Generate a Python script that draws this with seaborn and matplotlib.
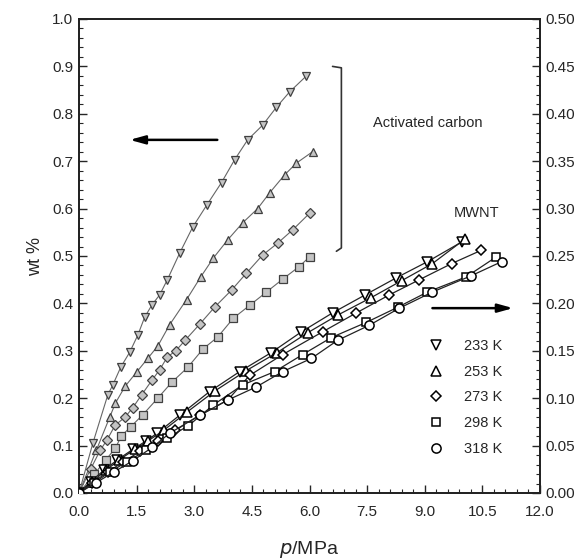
import numpy as np
import pandas as pd
import matplotlib
matplotlib.use("Agg")
import matplotlib.pyplot as plt
import seaborn as sns
from matplotlib.lines import Line2D
from matplotlib.ticker import MultipleLocator, FormatStrFormatter

# ---------------- data ----------------
temps = ["233 K", "253 K", "273 K", "298 K", "318 K"]
markers = ["v", "^", "D", "s", "o"]

# Activated carbon (left axis, wt %)
ac_p_233 = [0, 0.36, 0.75, 0.88, 1.09, 1.32, 1.53, 1.71, 1.9, 2.1, 2.3, 2.62, 2.96, 3.33, 3.71, 4.05, 4.39, 4.78, 5.14, 5.48, 5.92]
ac_w_233 = [0, 0.105, 0.207, 0.228, 0.266, 0.297, 0.333, 0.371, 0.397, 0.418, 0.45, 0.506, 0.561, 0.608, 0.655, 0.703, 0.745, 0.776, 0.814, 0.846, 0.88]
ac_p_253 = [0, 0.45, 0.8, 0.95, 1.2, 1.5, 1.8, 2.05, 2.36, 2.8, 3.17, 3.5, 3.87, 4.26, 4.65, 4.96, 5.35, 5.66, 6.08]
ac_w_253 = [0, 0.09, 0.16, 0.19, 0.225, 0.255, 0.285, 0.31, 0.355, 0.408, 0.456, 0.496, 0.534, 0.57, 0.60, 0.633, 0.671, 0.696, 0.72]
ac_p_273 = [0, 0.3, 0.55, 0.73, 0.94, 1.2, 1.4, 1.63, 1.9, 2.1, 2.3, 2.52, 2.76, 3.14, 3.53, 3.97, 4.36, 4.78, 5.17, 5.56, 6.0]
ac_w_273 = [0, 0.05, 0.09, 0.112, 0.143, 0.16, 0.18, 0.207, 0.238, 0.26, 0.287, 0.3, 0.322, 0.356, 0.392, 0.428, 0.464, 0.502, 0.527, 0.555, 0.59]
ac_p_298 = [0, 0.4, 0.7, 0.95, 1.1, 1.35, 1.66, 2.05, 2.42, 2.83, 3.23, 3.61, 4.02, 4.46, 4.88, 5.3, 5.72, 6.0]
ac_w_298 = [0, 0.04, 0.07, 0.095, 0.12, 0.14, 0.165, 0.2, 0.234, 0.265, 0.304, 0.329, 0.369, 0.397, 0.424, 0.451, 0.477, 0.498]

# MWNT (right axis, wt %)
mw_p_233 = [0, 0.3, 0.65, 1.0, 1.4, 1.75, 2.03, 2.62, 3.4, 4.18, 5.0, 5.79, 6.6, 7.45, 8.26, 9.07, 9.97]
mw_w_233 = [0, 0.012, 0.024, 0.035, 0.046, 0.055, 0.063, 0.082, 0.107, 0.128, 0.148, 0.17, 0.19, 0.209, 0.227, 0.244, 0.265]
mw_p_253 = [0, 0.35, 0.7, 1.05, 1.45, 1.8, 2.2, 2.8, 3.55, 4.35, 5.15, 5.95, 6.75, 7.6, 8.4, 9.2, 10.05]
mw_w_253 = [0, 0.012, 0.024, 0.035, 0.046, 0.055, 0.066, 0.085, 0.108, 0.129, 0.148, 0.169, 0.188, 0.206, 0.224, 0.242, 0.268]
mw_p_273 = [0, 0.35, 0.75, 1.15, 1.6, 2.05, 2.5, 3.15, 3.87, 4.44, 5.3, 6.34, 7.22, 8.08, 8.86, 9.7, 10.47]
mw_w_273 = [0, 0.011, 0.022, 0.033, 0.044, 0.055, 0.066, 0.082, 0.098, 0.124, 0.146, 0.17, 0.19, 0.209, 0.225, 0.242, 0.256]
mw_p_298 = [0, 0.4, 0.8, 1.25, 1.75, 2.3, 2.85, 3.5, 4.26, 5.09, 5.82, 6.57, 7.48, 8.3, 9.07, 10.08, 10.86]
mw_w_298 = [0, 0.011, 0.022, 0.033, 0.045, 0.058, 0.071, 0.093, 0.114, 0.128, 0.146, 0.164, 0.18, 0.196, 0.212, 0.228, 0.249]
mw_p_318 = [0, 0.45, 0.9, 1.4, 1.9, 2.36, 3.14, 3.87, 4.62, 5.3, 6.05, 6.73, 7.56, 8.34, 9.2, 10.2, 11.0]
mw_w_318 = [0, 0.011, 0.022, 0.034, 0.048, 0.063, 0.082, 0.098, 0.112, 0.128, 0.142, 0.161, 0.177, 0.195, 0.212, 0.229, 0.244]

ac_series = [(ac_p_233, ac_w_233), (ac_p_253, ac_w_253), (ac_p_273, ac_w_273), (ac_p_298, ac_w_298)]
mw_series = [(mw_p_233, mw_w_233), (mw_p_253, mw_w_253), (mw_p_273, mw_w_273),
             (mw_p_298, mw_w_298), (mw_p_318, mw_w_318)]

# ---------------- style ----------------
sns.set_style("ticks")
plt.rcParams["font.family"] = ["Liberation Sans", "DejaVu Sans"]
plt.rcParams["xtick.direction"] = "in"
plt.rcParams["ytick.direction"] = "in"

fig = plt.figure(figsize=(5.88, 5.60), dpi=100)
ax = fig.add_axes([79 / 588, 1 - 493 / 560, (540 - 79) / 588, (493 - 19) / 560])
ax2 = ax.twinx()

ac_face = "#c4c4c4"
ac_edge = "#404040"
msz = {"v": 6.3, "^": 6.3, "D": 4.6, "s": 5.2, "o": 6.0}

for i, (p, w) in enumerate(ac_series):
    df = pd.DataFrame({"p": p, "w": w})
    m = markers[i]
    sns.lineplot(data=df, x="p", y="w", ax=ax, sort=False, color="#666666", lw=0.8,
                 marker=m, markersize=msz[m], markerfacecolor=ac_face,
                 markeredgecolor=ac_edge, markeredgewidth=0.9, legend=False, zorder=3)

for i, (p, w) in enumerate(mw_series):
    df = pd.DataFrame({"p": p, "w": w})
    m = markers[i]
    sns.lineplot(data=df, x="p", y="w", ax=ax2, sort=False, color="#222222", lw=0.9,
                 marker=m, markersize=msz[m] + 0.6, markerfacecolor="white",
                 markeredgecolor="black", markeredgewidth=1.1, legend=False, zorder=3)

ax.set_xlim(0, 12)
ax.set_ylim(0, 1.0)
ax2.set_ylim(0, 0.5)

ax.xaxis.set_major_locator(MultipleLocator(1.5))
ax.xaxis.set_minor_locator(MultipleLocator(0.3))
ax.yaxis.set_major_locator(MultipleLocator(0.1))
ax.yaxis.set_minor_locator(MultipleLocator(0.02))
ax2.yaxis.set_major_locator(MultipleLocator(0.05))
ax2.yaxis.set_minor_locator(MultipleLocator(0.01))
ax.xaxis.set_major_formatter(FormatStrFormatter("%.1f"))
ax.yaxis.set_major_formatter(FormatStrFormatter("%.1f"))
ax2.yaxis.set_major_formatter(FormatStrFormatter("%.2f"))

for a in (ax, ax2):
    a.tick_params(which="major", length=6, width=1.0, labelsize=11, direction="in", pad=4)
    a.tick_params(which="minor", length=3, width=0.8, direction="in")
    for s in a.spines.values():
        s.set_linewidth(1.3)
        s.set_color("#222222")
ax.tick_params(axis="x", which="both", top=False)
ax.tick_params(axis="x", which="major", pad=9)

ax.set_xlabel(r"$p$/MPa", fontsize=14, labelpad=14)
ax.set_ylabel("wt %", fontsize=13, labelpad=6)
ax2.set_ylabel("")

# arrows
ax.annotate("", xy=(1.32, 0.745), xytext=(3.6, 0.745),
            arrowprops=dict(arrowstyle="-|>,head_length=0.9,head_width=0.25", lw=1.8, color="black",
                            shrinkA=0, shrinkB=0))
ax.annotate("", xy=(11.3, 0.39), xytext=(9.2, 0.39),
            arrowprops=dict(arrowstyle="-|>,head_length=0.9,head_width=0.25", lw=1.8, color="black",
                            shrinkA=0, shrinkB=0))

# bracket
ax.plot([6.6, 6.83, 6.83, 6.7], [0.9, 0.897, 0.517, 0.51], color="#333333", lw=1.2)

ax.text(9.07, 0.78, "Activated carbon", fontsize=10.5, ha="center", va="center")
ax.text(10.34, 0.59, "MWNT", fontsize=10.5, ha="center", va="center")

handles = [Line2D([], [], ls="none", marker=m, markersize=msz[m] + 0.6, markerfacecolor="white",
                  markeredgecolor="black", markeredgewidth=1.1) for m in markers]
leg = ax2.legend(handles, temps, loc="upper left", bbox_to_anchor=(416 / 588, 1 - 326 / 560),
                 bbox_transform=fig.transFigure, frameon=False, fontsize=10.5,
                 handlelength=1.0, handletextpad=1.4, labelspacing=0.8)

fig.savefig("out.png", dpi=100)
